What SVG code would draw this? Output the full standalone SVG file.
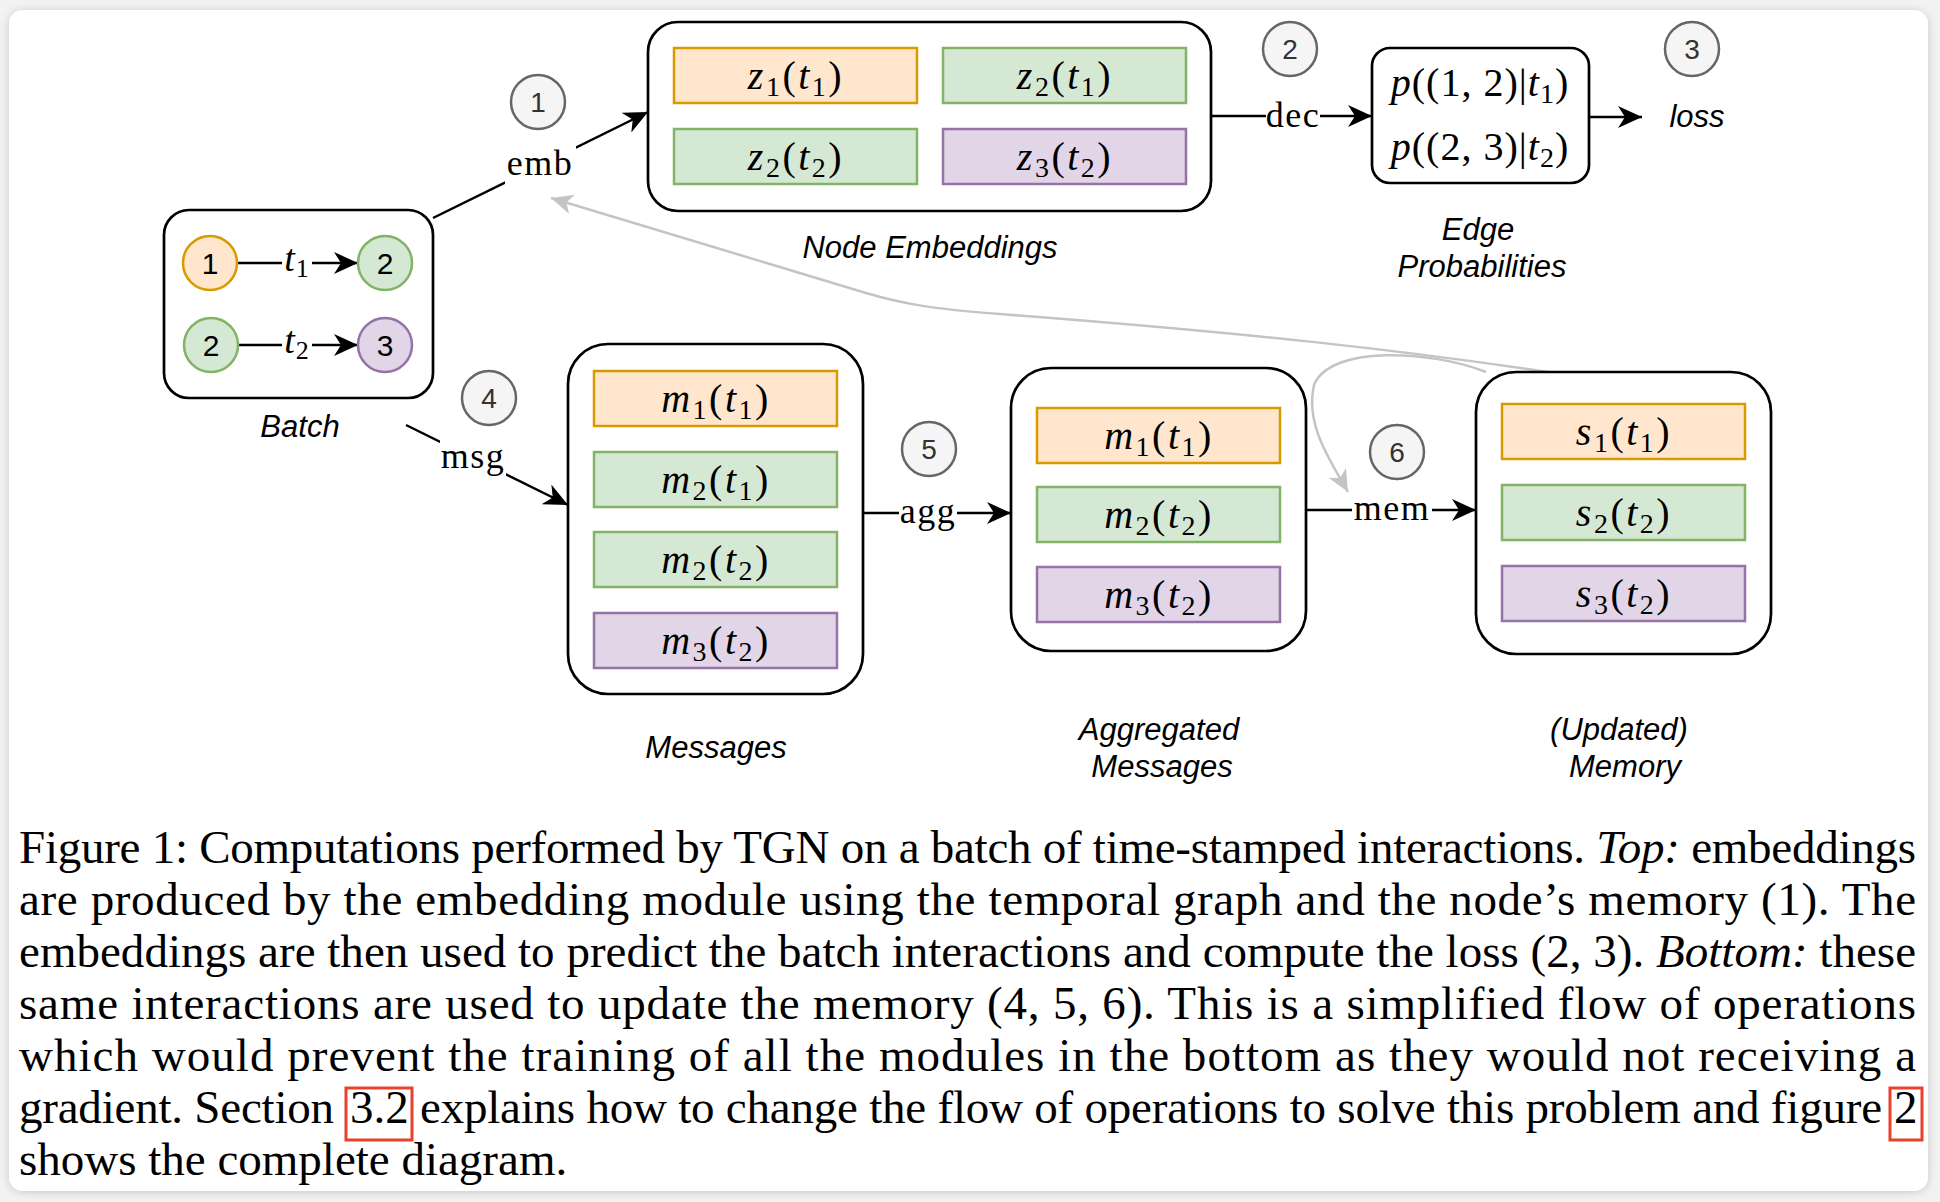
<svg xmlns="http://www.w3.org/2000/svg" width="1940" height="1202" viewBox="0 0 1940 1202">
<style>
.cont{fill:#fff;stroke:#000;stroke-width:2.7}
.or{fill:#ffe6cc;stroke:#d79b00;stroke-width:2.5}
.gr{fill:#d5e8d4;stroke:#82b366;stroke-width:2.5}
.pu{fill:#e1d5e7;stroke:#9673a6;stroke-width:2.5}
.num circle{fill:#f5f5f5;stroke:#666;stroke-width:2.5}
.num text{font-family:"Liberation Sans",Arial,sans-serif;font-size:28px;fill:#333;text-anchor:middle}
.bn{font-family:"Liberation Sans",Arial,sans-serif;font-size:30px;fill:#000;text-anchor:middle}
.math{font-family:"Liberation Serif","Times New Roman",serif;font-size:40px;letter-spacing:2.5px;fill:#000;text-anchor:middle}
.pm{letter-spacing:1px}
.i{font-style:italic}
.sb{font-size:28px}
.lbl{font-family:"Liberation Serif","Times New Roman",serif;font-size:36px;letter-spacing:1.5px;fill:#000;text-anchor:middle}
.cap{font-family:"Liberation Sans",Arial,sans-serif;font-style:italic;font-size:31px;fill:#000;text-anchor:middle}
.ln{fill:none;stroke:#000;stroke-width:2.5}
.gl{fill:none;stroke:#c4c4c4;stroke-width:2.5}
.txt{font-family:"Liberation Serif","Times New Roman",serif;font-size:47px;fill:#000}
.red{fill:none;stroke:#e8412c;stroke-width:3}
</style>
<defs>
<marker id="ah" markerUnits="userSpaceOnUse" markerWidth="24" markerHeight="22" refX="24" refY="11" orient="auto"><path d="M0,0 L24,11 L0,22 L7,11 z" fill="#000"/></marker>
<marker id="ag" markerUnits="userSpaceOnUse" markerWidth="22" markerHeight="20" refX="22" refY="10" orient="auto"><path d="M0,0 L22,10 L0,20 L6,10 z" fill="#c4c4c4"/></marker>
<filter id="sh" x="-5%" y="-5%" width="110%" height="110%"><feDropShadow dx="0" dy="1" stdDeviation="4" flood-color="#000" flood-opacity="0.18"/></filter>
</defs>
<rect x="0" y="0" width="1940" height="1202" fill="#f2f2f2"/>
<rect id="card" x="9" y="10" width="1919" height="1181" rx="14" fill="#fff" filter="url(#sh)"/>

<g id="connectors">
<path class="gl" d="M1548,372 C1400,350 1250,333 1000,314 C930,309 900,303 866,293 L551,198" marker-end="url(#ag)"/>
<path class="gl" d="M1486,372 C1430,350 1330,345 1314,385 C1305,425 1330,460 1348,492" marker-end="url(#ag)"/>
<line class="ln" x1="433" y1="218" x2="648" y2="112" marker-end="url(#ah)"/>
<rect x="505" y="146" width="71" height="38" fill="#fff"/>
<text class="lbl" x="540" y="175">emb</text>
<line class="ln" x1="1211" y1="116" x2="1372" y2="116" marker-end="url(#ah)"/>
<rect x="1266" y="100" width="54" height="32" fill="#fff"/>
<text class="lbl" x="1293" y="127">dec</text>
<line class="ln" x1="1589" y1="117" x2="1642" y2="117" marker-end="url(#ah)"/>
<line class="ln" x1="406" y1="425" x2="568" y2="505" marker-end="url(#ah)"/>
<rect x="440" y="440" width="66" height="40" fill="#fff"/>
<text class="lbl" x="473" y="468">msg</text>
<line class="ln" x1="863" y1="513" x2="1011" y2="513" marker-end="url(#ah)"/>
<rect x="899" y="496" width="58" height="38" fill="#fff"/>
<text class="lbl" x="928" y="523">agg</text>
<line class="ln" x1="1306" y1="510" x2="1476" y2="510" marker-end="url(#ah)"/>
<rect x="1352" y="494" width="80" height="32" fill="#fff"/>
<text class="lbl" x="1392" y="520">mem</text>
</g>

<g id="batch">
<rect class="cont" x="164" y="210" width="269" height="188" rx="25"/>
<line class="ln" x1="237" y1="263" x2="358" y2="263" marker-end="url(#ah)"/>
<line class="ln" x1="238" y1="345" x2="358" y2="345" marker-end="url(#ah)"/>
<rect x="282" y="246" width="30" height="34" fill="#fff"/>
<rect x="282" y="328" width="30" height="34" fill="#fff"/>
<text class="math" style="font-size:38px;letter-spacing:1px" x="297" y="271"><tspan class="i">t</tspan><tspan class="sb" style="font-size:26px" dy="6">1</tspan></text>
<text class="math" style="font-size:38px;letter-spacing:1px" x="297" y="353"><tspan class="i">t</tspan><tspan class="sb" style="font-size:26px" dy="6">2</tspan></text>
<circle class="or" cx="210" cy="263" r="27"/>
<circle class="gr" cx="385" cy="263" r="27"/>
<circle class="gr" cx="211" cy="345" r="27"/>
<circle class="pu" cx="385" cy="345" r="27"/>
<text class="bn" x="210" y="274">1</text>
<text class="bn" x="385" y="274">2</text>
<text class="bn" x="211" y="356">2</text>
<text class="bn" x="385" y="356">3</text>
<text class="cap" x="300" y="437">Batch</text>
</g>

<g id="node-embeddings">
<rect class="cont" x="648" y="22" width="563" height="189" rx="30"/>
<rect class="or" x="674" y="48" width="243" height="55"/>
<rect class="gr" x="943" y="48" width="243" height="55"/>
<rect class="gr" x="674" y="129" width="243" height="55"/>
<rect class="pu" x="943" y="129" width="243" height="55"/>
<text class="math" x="796" y="89"><tspan class="i">z</tspan><tspan class="sb" dy="7">1</tspan><tspan dy="-7">(</tspan><tspan class="i">t</tspan><tspan class="sb" dy="7">1</tspan><tspan dy="-7">)</tspan></text>
<text class="math" x="1065" y="89"><tspan class="i">z</tspan><tspan class="sb" dy="7">2</tspan><tspan dy="-7">(</tspan><tspan class="i">t</tspan><tspan class="sb" dy="7">1</tspan><tspan dy="-7">)</tspan></text>
<text class="math" x="796" y="170"><tspan class="i">z</tspan><tspan class="sb" dy="7">2</tspan><tspan dy="-7">(</tspan><tspan class="i">t</tspan><tspan class="sb" dy="7">2</tspan><tspan dy="-7">)</tspan></text>
<text class="math" x="1065" y="170"><tspan class="i">z</tspan><tspan class="sb" dy="7">3</tspan><tspan dy="-7">(</tspan><tspan class="i">t</tspan><tspan class="sb" dy="7">2</tspan><tspan dy="-7">)</tspan></text>
<text class="cap" x="930" y="258">Node Embeddings</text>
</g>

<g id="edge-probabilities">
<rect class="cont" x="1372" y="48" width="217" height="135" rx="18"/>
<text class="math pm" x="1480" y="96"><tspan class="i">p</tspan>((1, 2)|<tspan class="i">t</tspan><tspan class="sb" dy="7">1</tspan><tspan dy="-7">)</tspan></text>
<text class="math pm" x="1480" y="160"><tspan class="i">p</tspan>((2, 3)|<tspan class="i">t</tspan><tspan class="sb" dy="7">2</tspan><tspan dy="-7">)</tspan></text>
<text class="cap" x="1478" y="240">Edge</text>
<text class="cap" x="1482" y="277">Probabilities</text>
</g>

<g id="loss">
<text class="cap" x="1697" y="127">loss</text>
</g>

<g id="messages">
<rect class="cont" x="568" y="344" width="295" height="350" rx="40"/>
<rect class="or" x="594" y="371" width="243" height="55"/>
<rect class="gr" x="594" y="452" width="243" height="55"/>
<rect class="gr" x="594" y="532" width="243" height="55"/>
<rect class="pu" x="594" y="613" width="243" height="55"/>
<text class="math" x="716" y="412"><tspan class="i">m</tspan><tspan class="sb" dy="7">1</tspan><tspan dy="-7">(</tspan><tspan class="i">t</tspan><tspan class="sb" dy="7">1</tspan><tspan dy="-7">)</tspan></text>
<text class="math" x="716" y="493"><tspan class="i">m</tspan><tspan class="sb" dy="7">2</tspan><tspan dy="-7">(</tspan><tspan class="i">t</tspan><tspan class="sb" dy="7">1</tspan><tspan dy="-7">)</tspan></text>
<text class="math" x="716" y="573"><tspan class="i">m</tspan><tspan class="sb" dy="7">2</tspan><tspan dy="-7">(</tspan><tspan class="i">t</tspan><tspan class="sb" dy="7">2</tspan><tspan dy="-7">)</tspan></text>
<text class="math" x="716" y="654"><tspan class="i">m</tspan><tspan class="sb" dy="7">3</tspan><tspan dy="-7">(</tspan><tspan class="i">t</tspan><tspan class="sb" dy="7">2</tspan><tspan dy="-7">)</tspan></text>
<text class="cap" x="716" y="758">Messages</text>
</g>

<g id="aggregated-messages">
<rect class="cont" x="1011" y="368" width="295" height="283" rx="40"/>
<rect class="or" x="1037" y="408" width="243" height="55"/>
<rect class="gr" x="1037" y="487" width="243" height="55"/>
<rect class="pu" x="1037" y="567" width="243" height="55"/>
<text class="math" x="1159" y="449"><tspan class="i">m</tspan><tspan class="sb" dy="7">1</tspan><tspan dy="-7">(</tspan><tspan class="i">t</tspan><tspan class="sb" dy="7">1</tspan><tspan dy="-7">)</tspan></text>
<text class="math" x="1159" y="528"><tspan class="i">m</tspan><tspan class="sb" dy="7">2</tspan><tspan dy="-7">(</tspan><tspan class="i">t</tspan><tspan class="sb" dy="7">2</tspan><tspan dy="-7">)</tspan></text>
<text class="math" x="1159" y="608"><tspan class="i">m</tspan><tspan class="sb" dy="7">3</tspan><tspan dy="-7">(</tspan><tspan class="i">t</tspan><tspan class="sb" dy="7">2</tspan><tspan dy="-7">)</tspan></text>
<text class="cap" x="1159" y="740">Aggregated</text>
<text class="cap" x="1162" y="777">Messages</text>
</g>

<g id="memory">
<rect class="cont" x="1476" y="372" width="295" height="282" rx="40"/>
<rect class="or" x="1502" y="404" width="243" height="55"/>
<rect class="gr" x="1502" y="485" width="243" height="55"/>
<rect class="pu" x="1502" y="566" width="243" height="55"/>
<text class="math" x="1624" y="445"><tspan class="i">s</tspan><tspan class="sb" dy="7">1</tspan><tspan dy="-7">(</tspan><tspan class="i">t</tspan><tspan class="sb" dy="7">1</tspan><tspan dy="-7">)</tspan></text>
<text class="math" x="1624" y="526"><tspan class="i">s</tspan><tspan class="sb" dy="7">2</tspan><tspan dy="-7">(</tspan><tspan class="i">t</tspan><tspan class="sb" dy="7">2</tspan><tspan dy="-7">)</tspan></text>
<text class="math" x="1624" y="607"><tspan class="i">s</tspan><tspan class="sb" dy="7">3</tspan><tspan dy="-7">(</tspan><tspan class="i">t</tspan><tspan class="sb" dy="7">2</tspan><tspan dy="-7">)</tspan></text>
<text class="cap" x="1619" y="740">(Updated)</text>
<text class="cap" x="1625" y="777">Memory</text>
</g>

<g id="step-1" class="num"><circle cx="538" cy="102" r="27"/><text x="538" y="112">1</text></g>
<g id="step-2" class="num"><circle cx="1290" cy="49" r="27"/><text x="1290" y="59">2</text></g>
<g id="step-3" class="num"><circle cx="1692" cy="49" r="27"/><text x="1692" y="59">3</text></g>
<g id="step-4" class="num"><circle cx="489" cy="398" r="27"/><text x="489" y="408">4</text></g>
<g id="step-5" class="num"><circle cx="929" cy="449" r="27"/><text x="929" y="459">5</text></g>
<g id="step-6" class="num"><circle cx="1397" cy="452" r="27"/><text x="1397" y="462">6</text></g>

<g id="caption">
<text class="txt" x="19" y="863" textLength="1897" lengthAdjust="spacing">Figure 1: Computations performed by TGN on a batch of time-stamped interactions. <tspan class="i">Top:</tspan> embeddings</text>
<text class="txt" x="19" y="915" textLength="1897" lengthAdjust="spacing">are produced by the embedding module using the temporal graph and the node’s memory (1). The</text>
<text class="txt" x="19" y="967" textLength="1897" lengthAdjust="spacing">embeddings are then used to predict the batch interactions and compute the loss (2, 3). <tspan class="i">Bottom:</tspan> these</text>
<text class="txt" x="19" y="1019" textLength="1897" lengthAdjust="spacing">same interactions are used to update the memory (4, 5, 6). This is a simplified flow of operations</text>
<text class="txt" x="19" y="1071" textLength="1897" lengthAdjust="spacing">which would prevent the training of all the modules in the bottom as they would not receiving a</text>
<text class="txt" x="19" y="1123" textLength="315" lengthAdjust="spacing">gradient. Section</text>
<text class="txt" x="350" y="1123">3.2</text>
<text class="txt" x="420" y="1123" textLength="1462" lengthAdjust="spacing">explains how to change the flow of operations to solve this problem and figure</text>
<text class="txt" x="1894" y="1123">2</text>
<text class="txt" x="19" y="1175">shows the complete diagram.</text>
<rect class="red" x="346" y="1088" width="66" height="52"/>
<rect class="red" x="1890" y="1088" width="32" height="52"/>
</g>
</svg>
